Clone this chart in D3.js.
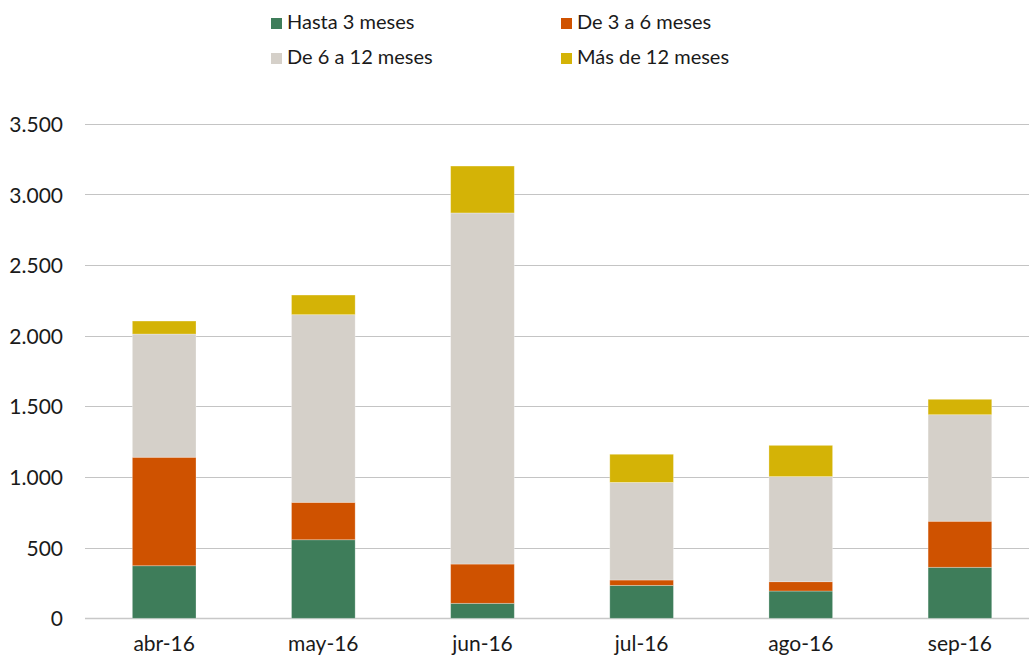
<!DOCTYPE html>
<html><head><meta charset="utf-8">
<script src="https://cdn.jsdelivr.net/npm/d3@7"></script>
<style>
html,body{margin:0;padding:0;background:#fff;}
svg{display:block;font-family:Lato, "Noto Sans", sans-serif;}
</style></head>
<body><svg id="c" width="1029" height="657"></svg>
<script>
const categories = ["abr-16","may-16","jun-16","jul-16","ago-16","sep-16"];
const seriesNames = ["Hasta 3 meses","De 3 a 6 meses","De 6 a 12 meses","Más de 12 meses"];
const hasta3 = [372, 556, 106, 233, 193, 361];
const de3a6 = [768, 265, 278, 38, 66, 326];
const de6a12 = [872, 1328, 2485, 691, 744, 754];
const mas12 = [92, 139, 332, 199, 221, 109];
const yTicks = [0,500,1000,1500,2000,2500,3000,3500];
const colors = ["#3e7d5a","#cf5200","#d5d0c9","#d4b306"];

const svg = d3.select("#c");
const W = 1029, H = 657;
const x = d3.scaleBand().domain(categories).range([84.6, 1039.5]).paddingInner(0.6).paddingOuter(0.3);
const y = d3.scaleLinear().domain([0,3500]).range([618.3, 123.8]);

const fmt = v => d3.format(",")(v).replace(/,/g,".");

// gridlines
svg.append("g").selectAll("line").data(yTicks).join("line")
  .attr("x1",85).attr("x2",W).attr("y1",d=>Math.round(y(d))+0.5).attr("y2",d=>Math.round(y(d))+0.5)
  .attr("stroke",d=>d===0?"#c8c8c8":"#c4c4c4").attr("stroke-width",d=>d===0?1.5:1);

// y tick labels
const yAxis = d3.axisLeft(y).tickValues(yTicks).tickFormat(fmt).tickSize(0).tickPadding(0);
const ya = svg.append("g").attr("transform","translate(63,0)").call(yAxis);
ya.select(".domain").remove();
ya.selectAll("text").attr("font-size",21).attr("fill","#1a1a1a").attr("font-family","Lato, sans-serif").attr("dy","0.36em");

// stacked data
const rows = categories.map((c,i)=>({cat:c, s0:hasta3[i], s1:de3a6[i], s2:de6a12[i], s3:mas12[i]}));
const stack = d3.stack().keys(["s0","s1","s2","s3"]);
const layers = stack(rows);
svg.append("g").selectAll("g").data(layers).join("g")
  .attr("fill",(d,i)=>colors[i])
  .selectAll("rect").data(d=>d).join("rect")
  .attr("x",d=>x(d.data.cat)).attr("width",x.bandwidth())
  .attr("y",d=>y(d[1])).attr("height",d=>y(d[0])-y(d[1]))
  .attr("stroke","rgba(255,255,255,0.35)").attr("stroke-width",0.8);

// x labels
const xAxis = d3.axisBottom(x).tickSize(0).tickPadding(0);
const xa = svg.append("g").attr("transform","translate(0,651)").call(xAxis);
xa.select(".domain").remove();
xa.selectAll("text").attr("font-size",21).attr("fill","#1a1a1a").attr("font-family","Lato, sans-serif").attr("dy",0);

// legend
const legPos = [[271,29],[561,29],[271,64],[561,64]];
const lg = svg.append("g").selectAll("g").data(seriesNames).join("g")
  .attr("transform",(d,i)=>`translate(${legPos[i][0]},${legPos[i][1]})`);
lg.append("rect").attr("x",0).attr("y",-11).attr("width",11).attr("height",11).attr("fill",(d,i)=>colors[i]);
lg.append("text").attr("x",16).attr("y",0).text(d=>d).attr("font-size",20).attr("fill","#1a1a1a").attr("font-family","Lato, sans-serif");
</script></body></html>
